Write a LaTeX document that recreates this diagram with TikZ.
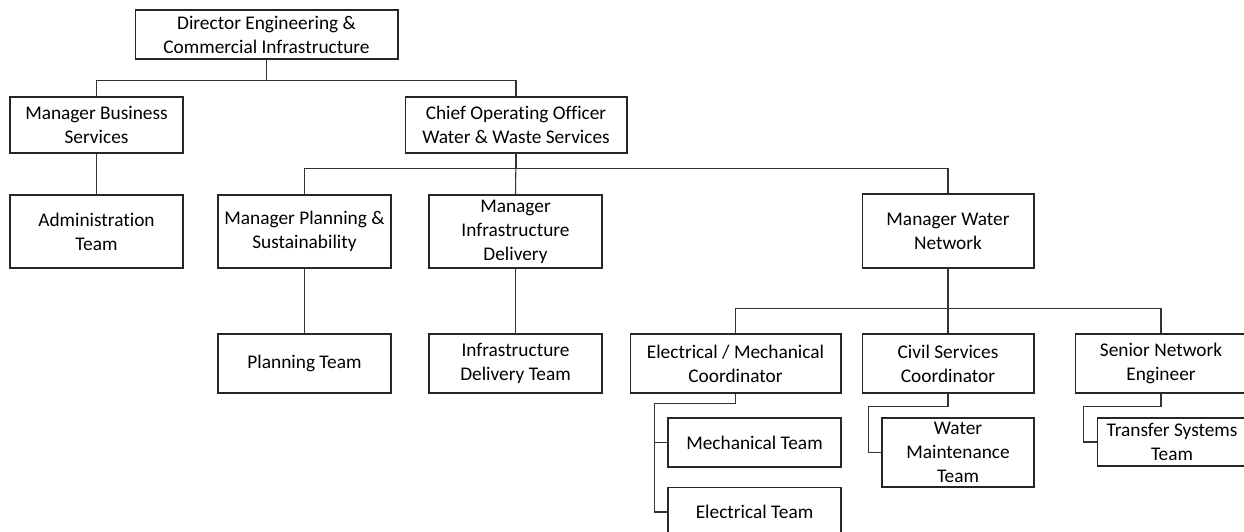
\documentclass[tikz,border=0pt]{standalone}
\usepackage{fontspec}
\setmainfont{Carlito}[Ligatures=NoCommon]
\usepackage{tikz}
\usetikzlibrary{arrows.meta}

\begin{document}
\begin{tikzpicture}[
    font=\fontsize{11}{13.7}\selectfont,
      x=0.02cm, y=-0.02cm,
      box/.style={rectangle, draw=black!85, line width=0.6pt, align=center, text=black, inner sep=0pt},
      director/.style={box, minimum width=5.26cm, minimum height=0.98cm},
      senior/.style={box, minimum width=3.46cm, minimum height=1.12cm},
      wide senior/.style={box, minimum width=4.44cm, minimum height=1.12cm},
      manager/.style={box, minimum width=3.46cm, minimum height=1.46cm},
      coordinator/.style={box, minimum width=3.46cm, minimum height=1.18cm},
      wide coordinator/.style={box, minimum width=4.22cm, minimum height=1.18cm},
      team/.style={box, minimum width=3.46cm, minimum height=0.98cm},
      link/.style={draw=black!80, line width=0.6pt}
    ]
      \path[use as bounding box, fill=white] (0,0) rectangle (1244,531);

      % top two levels
      \node[director] (director) at (266.5,34.5) {Director Engineering \&\\Commercial Infrastructure};
      \node[senior] (business) at (96.5,125) {Manager Business\\Services};
      \node[wide senior] (operations) at (516,125) {Chief Operating Officer\\Water \& Waste Services};

      % managers
      \node[manager] (admin) at (96.5,231.5) {Administration\\Team};
      \node[manager] (planning) at (304.5,231.5) {Manager Planning \&\\Sustainability};
      \node[manager] (delivery) at (515.5,231.5) {Manager\\Infrastructure\\Delivery};
      \node[manager, minimum width=3.44cm, minimum height=1.48cm] (network) at (948,231) {Manager Water\\Network};

      % teams and coordinators
      \node[coordinator] (planteam) at (304.5,363.5) {Planning Team};
      \node[coordinator] (deliveryteam) at (515.5,363.5) {Infrastructure\\Delivery Team};
      \node[wide coordinator] (electrical) at (735.5,363.5) {Electrical / Mechanical\\Coordinator};
      \node[coordinator, minimum width=3.44cm] (civil) at (948,363.5) {Civil Services\\Coordinator};
      \node[coordinator, minimum width=3.44cm] (engineer) at (1161,363.5) {Senior Network\\Engineer};

      \node[team] (mechteam) at (754.5,442.5) {Mechanical Team};
      \node[team] (electeam) at (754.5,512) {Electrical Team};
      \node[team, minimum width=3.04cm, minimum height=1.38cm] (maintenance) at (958,452.5) {Water\\Maintenance\\Team};
      \node[team, minimum width=3.0cm, minimum height=0.96cm] (transfer) at (1172,442) {Transfer Systems\\Team};

      \draw[link] (director.south) -- ++(0,21) -| (business.north);
      \draw[link] (director.south) -- ++(0,21) -| (operations.north);
      \draw[link] (business.south) -- (admin.north);

      \draw[link] (operations.south) -- ++(0,15) -| (planning.north);
      \draw[link] (operations.south) -- (delivery.north);
      \draw[link] (operations.south) -- ++(0,15) -| (network.north);
      \draw[link] (planning.south) -- (planteam.north);
      \draw[link] (delivery.south) -- (deliveryteam.north);

      \draw[link] (network.south) -- ++(0,40) -| (electrical.north);
      \draw[link] (network.south) -- (civil.north);
      \draw[link] (network.south) -- ++(0,40) -| (engineer.north);

      % side branches
      \draw[link] (electrical.south) -- ++(0,10) -| ([xshift=-0.26cm]electeam.west) -- (electeam.west);
      \draw[link] (mechteam.west) -- ++(-13,0);
      \draw[link] (civil.south) -- ++(0,13) -| ([xshift=-0.26cm]maintenance.west) -- (maintenance.west);
      \draw[link] (engineer.south) -- ++(0,13) -| ([xshift=-0.26cm]transfer.west) -- (transfer.west);
    \end{tikzpicture}
\end{document}
